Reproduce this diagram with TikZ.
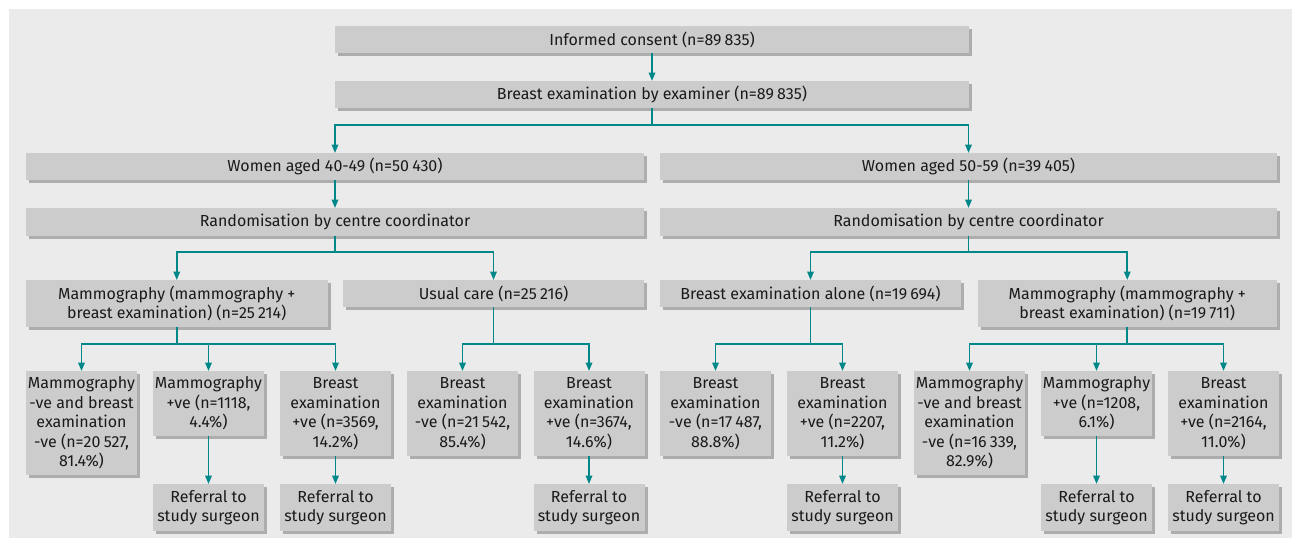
\documentclass[tikz,border=0pt]{standalone}
\usepackage{fontspec}
\setmainfont{Fira Sans}
\usetikzlibrary{arrows.meta,shadows,calc}
\definecolor{bgc}{HTML}{EBEBEB}
\definecolor{boxc}{HTML}{CCCCCC}
\definecolor{shadc}{HTML}{ADADAD}
\definecolor{tealc}{HTML}{00878A}
\definecolor{txtc}{HTML}{1A1A1A}
\newcommand{\ns}{\hspace{0.2em}}
\tikzset{
  box/.style={draw=none, fill=boxc, inner sep=0pt, outer sep=0pt, anchor=north west,
    align=center, text=txtc, font=\fontsize{16}{19.5}\selectfont,
    drop shadow={shadow xshift=3pt, shadow yshift=-3pt, fill=shadc, opacity=1}},
  conn/.style={draw=tealc, line width=1.8pt, -{Triangle[length=8.5pt,width=6.5pt]}},
}
\begin{document}
\begin{tikzpicture}[x=1pt,y=-1pt]
\useasboundingbox (0,0) rectangle (1292,541);
\fill[bgc] (9,9) rectangle (1292,538);
% top
\node[box, minimum width=634pt, minimum height=27pt] (ic) at (335,26) {Informed consent (n=89\ns835)};
\node[box, minimum width=634pt, minimum height=27pt] (be) at (335,81) {Breast examination by examiner (n=89\ns835)};
\node[box, minimum width=618pt, minimum height=27pt] (w40) at (26,153) {Women aged 40-49 (n=50\ns430)};
\node[box, minimum width=617pt, minimum height=27pt] (w50) at (660,153) {Women aged 50-59 (n=39\ns405)};
\node[box, minimum width=618pt, minimum height=27.5pt] (r40) at (26,208) {Randomisation by centre coordinator};
\node[box, minimum width=617pt, minimum height=27.5pt] (r50) at (660,208) {Randomisation by centre coordinator};
% second level
\node[box, minimum width=301.5pt, minimum height=46.5pt] (m40) at (26,280) {Mammography (mammography +\\breast examination) (n=25\ns214)};
\node[box, minimum width=301pt, minimum height=27pt] (uc) at (343,280) {Usual care (n=25\ns216)};
\node[box, minimum width=301pt, minimum height=27pt] (bea) at (660,280) {Breast examination alone (n=19\ns694)};
\node[box, minimum width=299.5pt, minimum height=46.5pt] (m50) at (977.5,280) {Mammography (mammography +\\breast examination) (n=19\ns711)};
% bottom row
\node[box, minimum width=111pt, minimum height=104pt] (b1) at (26,371) {Mammography\\-ve and breast\\examination\\-ve (n=20\ns527,\\81.4\%)};
\node[box, minimum width=111pt, minimum height=65pt] (b2) at (153,371) {Mammography\\+ve (n=1118,\\4.4\%)};
\node[box, minimum width=111pt, minimum height=85pt] (b3) at (280,371) {Breast\\examination\\+ve (n=3569,\\14.2\%)};
\node[box, minimum width=111pt, minimum height=85pt] (b4) at (407,371) {Breast\\examination\\-ve (n=21\ns542,\\85.4\%)};
\node[box, minimum width=111pt, minimum height=85pt] (b5) at (533.5,371) {Breast\\examination\\+ve (n=3674,\\14.6\%)};
\node[box, minimum width=111pt, minimum height=85pt] (b6) at (660,371) {Breast\\examination\\-ve (n=17\ns487,\\88.8\%)};
\node[box, minimum width=111pt, minimum height=85pt] (b7) at (787,371) {Breast\\examination\\+ve (n=2207,\\11.2\%)};
\node[box, minimum width=111pt, minimum height=104pt] (b8) at (914,371) {Mammography\\-ve and breast\\examination\\-ve (n=16\ns339,\\82.9\%)};
\node[box, minimum width=111pt, minimum height=65pt] (b9) at (1041,371) {Mammography\\+ve (n=1208,\\6.1\%)};
\node[box, minimum width=111pt, minimum height=85pt] (b10) at (1168,371) {Breast\\examination\\+ve (n=2164,\\11.0\%)};
% referrals
\node[box, minimum width=111pt, minimum height=47pt] (f2) at (153,484) {Referral to\\study surgeon};
\node[box, minimum width=111pt, minimum height=47pt] (f3) at (280,484) {Referral to\\study surgeon};
\node[box, minimum width=111pt, minimum height=47pt] (f5) at (533.5,484) {Referral to\\study surgeon};
\node[box, minimum width=111pt, minimum height=47pt] (f7) at (787,484) {Referral to\\study surgeon};
\node[box, minimum width=111pt, minimum height=47pt] (f9) at (1041,484) {Referral to\\study surgeon};
\node[box, minimum width=111pt, minimum height=47pt] (f10) at (1168,484) {Referral to\\study surgeon};
% split levels
\coordinate (s1) at (0,125);
\coordinate (s2) at (0,252);
\coordinate (s3) at (0,344);
% connectors
\draw[conn] (ic.south) -- (be.north);
\draw[conn] (be.south) |- (w40.north |- s1) -- (w40.north);
\draw[conn] (be.south) |- (w50.north |- s1) -- (w50.north);
\draw[conn] (w40.south) -- (r40.north);
\draw[conn] (w50.south) -- (r50.north);
\draw[conn] (r40.south) |- (m40.north |- s2) -- (m40.north);
\draw[conn] (r40.south) |- (uc.north |- s2) -- (uc.north);
\draw[conn] (r50.south) |- (bea.north |- s2) -- (bea.north);
\draw[conn] (r50.south) |- (m50.north |- s2) -- (m50.north);
\draw[conn] (m40.south) |- (b1.north |- s3) -- (b1.north);
\draw[conn] (m40.south) |- (b2.north |- s3) -- (b2.north);
\draw[conn] (m40.south) |- (b3.north |- s3) -- (b3.north);
\draw[conn] (uc.south) |- (b4.north |- s3) -- (b4.north);
\draw[conn] (uc.south) |- (b5.north |- s3) -- (b5.north);
\draw[conn] (bea.south) |- (b6.north |- s3) -- (b6.north);
\draw[conn] (bea.south) |- (b7.north |- s3) -- (b7.north);
\draw[conn] (m50.south) |- (b8.north |- s3) -- (b8.north);
\draw[conn] (m50.south) |- (b9.north |- s3) -- (b9.north);
\draw[conn] (m50.south) |- (b10.north |- s3) -- (b10.north);
\draw[conn] (b2.south) -- (f2.north);
\draw[conn] (b3.south) -- (f3.north);
\draw[conn] (b5.south) -- (f5.north);
\draw[conn] (b7.south) -- (f7.north);
\draw[conn] (b9.south) -- (f9.north);
\draw[conn] (b10.south) -- (f10.north);
\end{tikzpicture}
\end{document}
